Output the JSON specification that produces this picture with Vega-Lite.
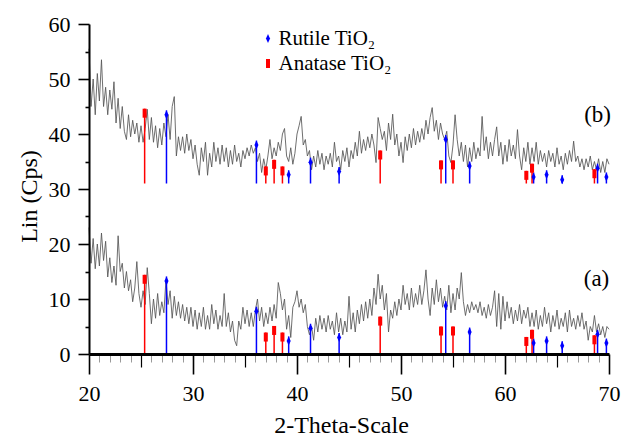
{
"$schema": "https://vega.github.io/schema/vega-lite/v6.json",
"width": 520, "height": 330,
"autosize": {"type": "none"},
"padding": {"left": 89, "top": 24, "right": 13, "bottom": 84},
"config": {"view": {"stroke": null}, "font": "Liberation Serif",
 "style": {"guide-label": {"font": "Liberation Serif", "fill": "#000000"}, "guide-title": {"font": "Liberation Serif", "fill": "#000000"}},
 "axis": {"grid": false, "labelFont": "Liberation Serif", "titleFont": "Liberation Serif", "labelColor": "#000000", "titleColor": "#000000"},
 "legend": {"orient": "none", "legendX": 168.5, "legendY": 4, "symbolSize": 81, "symbolStrokeWidth": 0, "labelFont": "Liberation Serif", "labelFontSize": 21, "labelColor": "#000000", "labelOffset": 0, "rowPadding": 3, "padding": 0, "labelLimit": 300, "titlePadding": 0}
},
"datasets": {
"xrd": [
{"t":20.0,"a":23,"b":55.5},{"t":20.2,"a":16.5,"b":45},{"t":20.4,"a":21,"b":50},{"t":20.6,"a":15.5,"b":43.5},{"t":20.8,"a":20,"b":51},
{"t":21.0,"a":16,"b":46},{"t":21.2,"a":22,"b":53.5},{"t":21.4,"a":17,"b":45},{"t":21.6,"a":20.5,"b":48.5},{"t":21.8,"a":14,"b":43.5},
{"t":22.0,"a":17.5,"b":48},{"t":22.2,"a":13,"b":44.5},{"t":22.4,"a":16,"b":49.5},{"t":22.6,"a":12.5,"b":42},{"t":22.8,"a":21.5,"b":46.5},
{"t":23.0,"a":15,"b":41},{"t":23.2,"a":16.5,"b":45},{"t":23.4,"a":12,"b":40.5},{"t":23.6,"a":15,"b":39},{"t":23.8,"a":11.5,"b":43.5},
{"t":24.0,"a":13.5,"b":39.5},{"t":24.2,"a":9.5,"b":42.5},{"t":24.4,"a":12,"b":40},{"t":24.6,"a":16.8,"b":42},{"t":24.8,"a":11,"b":38.5},
{"t":25.0,"a":8.5,"b":41.5},{"t":25.2,"a":11.5,"b":38.5},{"t":25.4,"a":9,"b":41},{"t":25.6,"a":15.7,"b":44.5},{"t":25.8,"a":11,"b":39},
{"t":26.0,"a":5.5,"b":43},{"t":26.2,"a":10,"b":38.5},{"t":26.4,"a":6.5,"b":41.5},{"t":26.6,"a":11,"b":37.5},{"t":26.8,"a":7,"b":41},
{"t":27.0,"a":9.5,"b":38},{"t":27.2,"a":7.5,"b":42},{"t":27.4,"a":13.5,"b":39.5},{"t":27.6,"a":9,"b":43.5},{"t":27.8,"a":11.5,"b":39},
{"t":28.0,"a":6.5,"b":45},{"t":28.2,"a":10.5,"b":46.8},{"t":28.4,"a":7,"b":36},{"t":28.6,"a":9.5,"b":39.5},{"t":28.8,"a":6.5,"b":37},
{"t":29.0,"a":9,"b":39.5},{"t":29.2,"a":6,"b":36.5},{"t":29.4,"a":8.5,"b":40},{"t":29.6,"a":5.5,"b":37},{"t":29.8,"a":8.5,"b":39},
{"t":30.0,"a":5,"b":35.5},{"t":30.2,"a":8,"b":38},{"t":30.4,"a":4.5,"b":34.5},{"t":30.6,"a":7.5,"b":32.5},{"t":30.8,"a":5,"b":37.5},
{"t":31.0,"a":8.5,"b":35},{"t":31.2,"a":4.5,"b":38.5},{"t":31.4,"a":7,"b":32.5},{"t":31.6,"a":4.5,"b":36.5},{"t":31.8,"a":9,"b":34},
{"t":32.0,"a":5.5,"b":38.5},{"t":32.2,"a":8,"b":35},{"t":32.4,"a":4.5,"b":37.5},{"t":32.6,"a":7,"b":34.5},{"t":32.8,"a":5,"b":38},
{"t":33.0,"a":11,"b":35},{"t":33.2,"a":5,"b":37.5},{"t":33.4,"a":7.5,"b":34},{"t":33.6,"a":4,"b":37},{"t":33.8,"a":6,"b":34.5},
{"t":34.0,"a":2.5,"b":38},{"t":34.2,"a":1.5,"b":35},{"t":34.4,"a":6,"b":36.5},{"t":34.6,"a":4.5,"b":34},{"t":34.8,"a":8.5,"b":37},
{"t":35.0,"a":5.5,"b":35.5},{"t":35.2,"a":8,"b":37.5},{"t":35.4,"a":5,"b":36},{"t":35.6,"a":7.5,"b":38},{"t":35.8,"a":5,"b":36.5},
{"t":36.0,"a":8,"b":37.5},{"t":36.2,"a":10,"b":35},{"t":36.4,"a":6,"b":36.5},{"t":36.6,"a":8.5,"b":33},{"t":36.8,"a":5,"b":35.5},
{"t":37.0,"a":7.5,"b":33.5},{"t":37.2,"a":5.5,"b":36},{"t":37.4,"a":8.5,"b":39},{"t":37.6,"a":6,"b":35.5},{"t":37.8,"a":9,"b":37.5},
{"t":38.0,"a":6.5,"b":36},{"t":38.2,"a":13,"b":38.5},{"t":38.4,"a":11,"b":37},{"t":38.6,"a":8,"b":40},{"t":38.8,"a":10,"b":41},
{"t":39.0,"a":4.5,"b":36},{"t":39.2,"a":7,"b":35},{"t":39.4,"a":3,"b":37.5},{"t":39.6,"a":8.5,"b":34.5},{"t":39.8,"a":9.5,"b":36.5},
{"t":40.0,"a":11.5,"b":40},{"t":40.2,"a":8.5,"b":41.5},{"t":40.4,"a":10,"b":43.2},{"t":40.6,"a":7.5,"b":38},{"t":40.8,"a":9,"b":39},
{"t":41.0,"a":5,"b":36},{"t":41.2,"a":3.5,"b":37},{"t":41.4,"a":5,"b":33.5},{"t":41.6,"a":2.5,"b":36},{"t":41.8,"a":6.5,"b":34},
{"t":42.0,"a":4,"b":37},{"t":42.2,"a":7,"b":34.5},{"t":42.4,"a":4.5,"b":36.5},{"t":42.6,"a":6.5,"b":33.5},{"t":42.8,"a":4,"b":36},
{"t":43.0,"a":7,"b":34.5},{"t":43.2,"a":4.5,"b":36.5},{"t":43.4,"a":6,"b":34},{"t":43.6,"a":3.5,"b":38.5},{"t":43.8,"a":7.5,"b":35},
{"t":44.0,"a":4,"b":36},{"t":44.2,"a":6.5,"b":33.5},{"t":44.4,"a":3.5,"b":37},{"t":44.6,"a":6,"b":35},{"t":44.8,"a":4,"b":37.5},
{"t":45.0,"a":10.5,"b":34},{"t":45.2,"a":4.5,"b":37},{"t":45.4,"a":7.5,"b":35.5},{"t":45.6,"a":4,"b":38.5},{"t":45.8,"a":8,"b":36},
{"t":46.0,"a":5.5,"b":40.5},{"t":46.2,"a":9,"b":36.5},{"t":46.4,"a":6,"b":39},{"t":46.6,"a":9.5,"b":37},{"t":46.8,"a":6.5,"b":39.5},
{"t":47.0,"a":10,"b":37.5},{"t":47.2,"a":7,"b":40},{"t":47.4,"a":12,"b":38},{"t":47.6,"a":9,"b":34.8},{"t":47.8,"a":14.5,"b":43},
{"t":48.0,"a":10,"b":41},{"t":48.2,"a":12.5,"b":39},{"t":48.4,"a":8,"b":40.5},{"t":48.6,"a":11,"b":37},{"t":48.8,"a":4,"b":42},
{"t":49.0,"a":8,"b":39},{"t":49.2,"a":6.5,"b":43.6},{"t":49.4,"a":9.5,"b":38},{"t":49.6,"a":7,"b":40},{"t":49.8,"a":10,"b":36},
{"t":50.0,"a":8,"b":38.5},{"t":50.2,"a":12.5,"b":34.8},{"t":50.4,"a":9,"b":39.5},{"t":50.6,"a":11,"b":37},{"t":50.8,"a":8,"b":40},
{"t":51.0,"a":12,"b":37.5},{"t":51.2,"a":8.5,"b":41},{"t":51.4,"a":11,"b":38},{"t":51.6,"a":9,"b":40.5},{"t":51.8,"a":12.5,"b":38.5},
{"t":52.0,"a":9,"b":41},{"t":52.2,"a":11.5,"b":39},{"t":52.4,"a":15.3,"b":42.5},{"t":52.6,"a":10,"b":40},{"t":52.8,"a":7,"b":43},
{"t":53.0,"a":12,"b":44.8},{"t":53.2,"a":9,"b":40.5},{"t":53.4,"a":13.5,"b":42.5},{"t":53.6,"a":9.5,"b":39},{"t":53.8,"a":12,"b":42},
{"t":54.0,"a":8.5,"b":40},{"t":54.2,"a":10.5,"b":39},{"t":54.4,"a":8,"b":40.5},{"t":54.6,"a":12.5,"b":36},{"t":54.8,"a":7.5,"b":34.8},
{"t":55.0,"a":11,"b":38},{"t":55.2,"a":8,"b":43.5},{"t":55.4,"a":12,"b":39},{"t":55.6,"a":10,"b":36},{"t":55.8,"a":14.8,"b":38.5},
{"t":56.0,"a":9.5,"b":35},{"t":56.2,"a":7,"b":38},{"t":56.4,"a":9,"b":34},{"t":56.6,"a":7.5,"b":37.5},{"t":56.8,"a":9.5,"b":35},
{"t":57.0,"a":8,"b":38.5},{"t":57.2,"a":9,"b":35.5},{"t":57.4,"a":7.5,"b":37.5},{"t":57.6,"a":9.5,"b":36},{"t":57.8,"a":7,"b":43.2},
{"t":58.0,"a":8.5,"b":37},{"t":58.2,"a":6.5,"b":39.5},{"t":58.4,"a":9,"b":35.5},{"t":58.6,"a":7,"b":38.5},{"t":58.8,"a":8.5,"b":36},
{"t":59.0,"a":11.5,"b":39},{"t":59.2,"a":5,"b":41.3},{"t":59.4,"a":11,"b":36},{"t":59.6,"a":4.5,"b":38.5},{"t":59.8,"a":10.5,"b":34.5},
{"t":60.0,"a":6,"b":38},{"t":60.2,"a":9.5,"b":35},{"t":60.4,"a":6.5,"b":39},{"t":60.6,"a":8.5,"b":36},{"t":60.8,"a":5.5,"b":38},
{"t":61.0,"a":8,"b":35.5},{"t":61.2,"a":6,"b":40.8},{"t":61.4,"a":9,"b":36},{"t":61.6,"a":5.5,"b":33.5},{"t":61.8,"a":8,"b":37.5},
{"t":62.0,"a":6.5,"b":35},{"t":62.2,"a":8.5,"b":38.5},{"t":62.4,"a":5,"b":34.5},{"t":62.6,"a":7.5,"b":37.5},{"t":62.8,"a":5,"b":35},
{"t":63.0,"a":8,"b":38.5},{"t":63.2,"a":4.5,"b":34.5},{"t":63.4,"a":7,"b":37},{"t":63.6,"a":5,"b":35},{"t":63.8,"a":8.5,"b":36.5},
{"t":64.0,"a":5.5,"b":34},{"t":64.2,"a":7.5,"b":37},{"t":64.4,"a":4,"b":35},{"t":64.6,"a":7,"b":36.5},{"t":64.8,"a":5,"b":34},
{"t":65.0,"a":8,"b":37.5},{"t":65.2,"a":4.5,"b":34.5},{"t":65.4,"a":6.5,"b":36},{"t":65.6,"a":5,"b":33.5},{"t":65.8,"a":7.5,"b":36.5},
{"t":66.0,"a":4,"b":34.5},{"t":66.2,"a":8,"b":37},{"t":66.4,"a":5,"b":35},{"t":66.6,"a":6.5,"b":38.7},{"t":66.8,"a":4.5,"b":35},
{"t":67.0,"a":7,"b":36},{"t":67.2,"a":5,"b":34},{"t":67.4,"a":7.5,"b":35.5},{"t":67.6,"a":4.5,"b":33.5},{"t":67.8,"a":6,"b":35.5},
{"t":68.0,"a":2.5,"b":34},{"t":68.2,"a":5,"b":36},{"t":68.4,"a":4,"b":33.5},{"t":68.6,"a":7,"b":35},{"t":68.8,"a":4,"b":33.5},
{"t":69.0,"a":5.5,"b":35.5},{"t":69.2,"a":3.5,"b":33},{"t":69.4,"a":5,"b":35},{"t":69.6,"a":3,"b":33},{"t":69.8,"a":5,"b":35.5},
{"t":70.0,"a":4.5,"b":34.5}
],
"refs": [
{"phase":"Rutile TiO₂","t":27.45,"y0":0,"y1":14.1},{"phase":"Rutile TiO₂","t":36.1,"y0":0,"y1":8.6},{"phase":"Rutile TiO₂","t":39.2,"y0":0,"y1":3.2},
{"phase":"Rutile TiO₂","t":41.3,"y0":0,"y1":5.5},{"phase":"Rutile TiO₂","t":44.05,"y0":0,"y1":3.8},{"phase":"Rutile TiO₂","t":54.3,"y0":0,"y1":9.6},
{"phase":"Rutile TiO₂","t":56.6,"y0":0,"y1":4.8},{"phase":"Rutile TiO₂","t":62.75,"y0":0,"y1":2.8},{"phase":"Rutile TiO₂","t":64.0,"y0":0,"y1":3.2},
{"phase":"Rutile TiO₂","t":65.5,"y0":0,"y1":2.3},{"phase":"Rutile TiO₂","t":68.9,"y0":0,"y1":4.4},{"phase":"Rutile TiO₂","t":69.75,"y0":0,"y1":2.8},
{"phase":"Anatase TiO₂","t":25.35,"y0":0,"y1":14.4},{"phase":"Anatase TiO₂","t":37.0,"y0":0,"y1":3.9},{"phase":"Anatase TiO₂","t":37.8,"y0":0,"y1":5.1},
{"phase":"Anatase TiO₂","t":38.6,"y0":0,"y1":3.9},{"phase":"Anatase TiO₂","t":48.0,"y0":0,"y1":6.8},{"phase":"Anatase TiO₂","t":53.85,"y0":0,"y1":5.0},
{"phase":"Anatase TiO₂","t":55.0,"y0":0,"y1":5.0},{"phase":"Anatase TiO₂","t":62.05,"y0":0,"y1":3.1},{"phase":"Anatase TiO₂","t":62.6,"y0":0,"y1":4.4},
{"phase":"Anatase TiO₂","t":68.6,"y0":0,"y1":3.4},
{"phase":"Rutile TiO₂","t":27.45,"y0":31,"y1":44.3},{"phase":"Rutile TiO₂","t":36.1,"y0":31,"y1":38.8},{"phase":"Rutile TiO₂","t":39.2,"y0":31,"y1":33.4},
{"phase":"Rutile TiO₂","t":41.3,"y0":31,"y1":35.7},{"phase":"Rutile TiO₂","t":44.05,"y0":31,"y1":34.0},{"phase":"Rutile TiO₂","t":54.3,"y0":31,"y1":39.8},
{"phase":"Rutile TiO₂","t":56.6,"y0":31,"y1":35.0},{"phase":"Rutile TiO₂","t":62.75,"y0":31,"y1":33.0},{"phase":"Rutile TiO₂","t":64.0,"y0":31,"y1":33.4},
{"phase":"Rutile TiO₂","t":65.5,"y0":31,"y1":32.5},{"phase":"Rutile TiO₂","t":68.9,"y0":31,"y1":34.6},{"phase":"Rutile TiO₂","t":69.75,"y0":31,"y1":33.0},
{"phase":"Anatase TiO₂","t":25.35,"y0":31,"y1":44.6},{"phase":"Anatase TiO₂","t":37.0,"y0":31,"y1":34.1},{"phase":"Anatase TiO₂","t":37.8,"y0":31,"y1":35.3},
{"phase":"Anatase TiO₂","t":38.6,"y0":31,"y1":34.1},{"phase":"Anatase TiO₂","t":48.0,"y0":31,"y1":37.0},{"phase":"Anatase TiO₂","t":53.85,"y0":31,"y1":35.2},
{"phase":"Anatase TiO₂","t":55.0,"y0":31,"y1":35.2},{"phase":"Anatase TiO₂","t":62.05,"y0":31,"y1":33.3},{"phase":"Anatase TiO₂","t":62.6,"y0":31,"y1":34.6},
{"phase":"Anatase TiO₂","t":68.6,"y0":31,"y1":33.6}
],
"tags": [
{"txt":"(b)","t":68.9,"v":43.5},
{"txt":"(a)","t":68.8,"v":13.7}
]
},
"resolve": {"axis": {"x": "independent", "y": "independent"}},
"layer": [
{
"data": {"name": "xrd"},
"mark": {"type": "line", "stroke": "#555555", "strokeWidth": 0.85},
"encoding": {
"x": {"field": "t", "type": "quantitative",
 "scale": {"domain": [20, 70], "nice": false, "zero": false},
 "axis": {"orient": "bottom", "title": null, "labels": false, "domain": false,
  "values": [21,22,23,24,26,27,28,29,31,32,33,34,36,37,38,39,41,42,43,44,46,47,48,49,51,52,53,54,56,57,58,59,61,62,63,64,66,67,68,69],
  "tickSize": 8, "tickColor": "#9a9a9a", "tickWidth": 1}},
"y": {"field": "a", "type": "quantitative",
 "scale": {"domain": [0, 60], "nice": false},
 "axis": {"orient": "left", "title": null, "labels": false, "domain": false,
  "values": [5,15,25,35,45,55], "tickSize": 4, "tickColor": "#000000", "tickWidth": 1.6}}
}
},
{
"data": {"name": "xrd"},
"mark": {"type": "line", "stroke": "#555555", "strokeWidth": 0.85},
"encoding": {
"x": {"field": "t", "type": "quantitative",
 "axis": {"orient": "bottom", "title": null, "labels": false, "domain": false,
  "values": [25,35,45,55,65], "tickSize": 13, "tickColor": "#000000", "tickWidth": 1.2}},
"y": {"field": "b", "type": "quantitative", "axis": null}
}
},
{
"data": {"name": "refs"},
"mark": {"type": "rule", "strokeWidth": 1.5},
"encoding": {
"x": {"field": "t", "type": "quantitative",
 "axis": {"orient": "bottom", "title": "2-Theta-Scale",
  "values": [20,30,40,50,60,70], "tickSize": 20, "tickColor": "#000000", "tickWidth": 1.6,
  "domainColor": "#000000", "domainWidth": 3, "labelOverlap": false, "labelFlush": false,
  "labelFont": "Liberation Serif", "labelFontSize": 22, "labelPadding": 9,
  "titleFont": "Liberation Serif", "titleFontSize": 24, "titleFontWeight": "normal",
  "titleX": 252, "titleY": 71, "titleBaseline": "middle", "titleAlign": "center", "zindex": 1}},
"y": {"field": "y0", "type": "quantitative",
 "axis": {"orient": "left", "title": "Lin (Cps)",
  "values": [0,10,20,30,40,50,60], "tickSize": 11, "tickColor": "#000000", "tickWidth": 1.6,
  "domainColor": "#000000", "domainWidth": 2, "labelOverlap": false, "labelFlush": false,
  "labelFont": "Liberation Serif", "labelFontSize": 22, "labelPadding": 8,
  "titleFont": "Liberation Serif", "titleFontSize": 24, "titleFontWeight": "normal",
  "titleX": -60, "titleY": 172, "titleBaseline": "middle", "titleAlign": "center", "zindex": 1}},
"y2": {"field": "y1"},
"color": {"field": "phase", "type": "nominal", "title": null,
 "scale": {"domain": ["Rutile TiO₂", "Anatase TiO₂"], "range": ["#0000ff", "#ff0000"]}}
}
},
{
"data": {"name": "refs"},
"mark": {"type": "point", "filled": true, "opacity": 1, "size": 81, "yOffset": 4.5, "strokeWidth": 0},
"encoding": {
"x": {"field": "t", "type": "quantitative", "axis": null},
"y": {"field": "y1", "type": "quantitative", "axis": null},
"color": {"field": "phase", "type": "nominal", "title": null,
 "scale": {"domain": ["Rutile TiO₂", "Anatase TiO₂"], "range": ["#0000ff", "#ff0000"]}},
"shape": {"field": "phase", "type": "nominal", "title": null,
 "scale": {"domain": ["Rutile TiO₂", "Anatase TiO₂"], "range": ["M0,-1L0.45,0L0,1L-0.45,0Z", "M-0.45,-1H0.45V1H-0.45Z"]}}
}
},
{
"data": {"name": "tags"},
"mark": {"type": "text", "font": "Liberation Serif", "fontSize": 23, "color": "#000000", "align": "center", "baseline": "middle"},
"encoding": {
"x": {"field": "t", "type": "quantitative", "axis": null},
"y": {"field": "v", "type": "quantitative", "axis": null},
"text": {"field": "txt"}
}
}
]
}
